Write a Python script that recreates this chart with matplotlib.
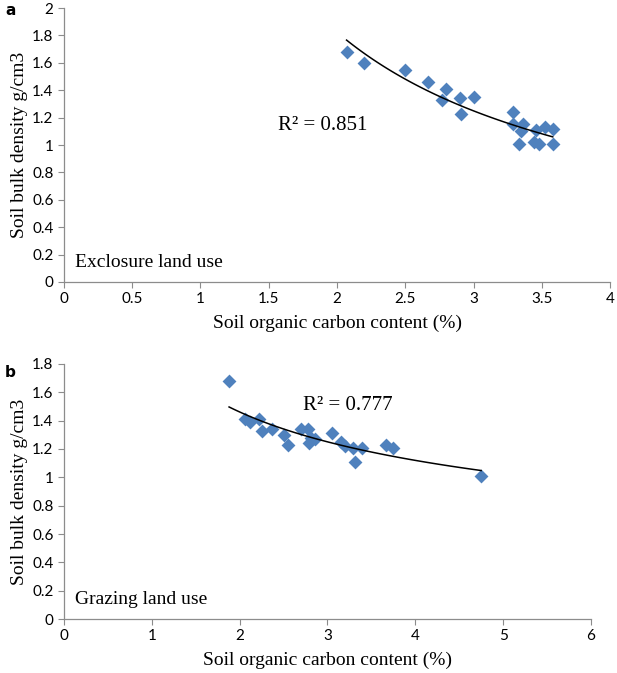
import numpy as np
import matplotlib.pyplot as plt

# exclosure land use (panel a)
soc_a = [2.07, 2.20, 2.50, 2.67, 2.80, 2.77, 2.90, 3.00, 2.91, 3.29,
         3.29, 3.36, 3.35, 3.33, 3.46, 3.52, 3.58, 3.44, 3.48, 3.58]
bd_a = [1.68, 1.60, 1.55, 1.46, 1.41, 1.33, 1.34, 1.35, 1.23, 1.24,
        1.15, 1.15, 1.10, 1.01, 1.11, 1.13, 1.12, 1.02, 1.01, 1.01]

# grazing land use (panel b)
soc_b = [1.88, 2.06, 2.12, 2.22, 2.26, 2.37, 2.50, 2.55, 2.70, 2.78, 2.81,
         2.79, 2.86, 3.05, 3.15, 3.20, 3.29, 3.31, 3.39, 3.67, 3.75, 4.75]
bd_b = [1.68, 1.41, 1.39, 1.41, 1.33, 1.34, 1.30, 1.23, 1.34, 1.34, 1.28,
        1.24, 1.27, 1.31, 1.25, 1.22, 1.21, 1.11, 1.21, 1.23, 1.21, 1.01]

r2_a = "R² = 0.851"
r2_b = "R² = 0.777"

serif = "Liberation Serif"
tickfont = "Lato"
blue = "#4F81BD"
grey = "#8c8c8c"


def power_fit(x, y):
    x = np.asarray(x)
    y = np.asarray(y)
    b, lna = np.polyfit(np.log(x), np.log(y), 1)
    xs = np.linspace(x.min(), x.max(), 100)
    return xs, np.exp(lna) * xs ** b


def style_axis(ax):
    for s in ["top", "right"]:
        ax.spines[s].set_visible(False)
    for s in ["left", "bottom"]:
        ax.spines[s].set_color(grey)
        ax.spines[s].set_linewidth(0.9)
    ax.tick_params(direction="out", length=4, color=grey, labelsize=11)
    for lab in ax.get_xticklabels() + ax.get_yticklabels():
        lab.set_fontfamily(tickfont)
    ax.set_ylabel("Soil bulk density g/cm3", family=serif, fontsize=14, labelpad=3)
    ax.set_xlabel("Soil organic carbon content (%)", family=serif, fontsize=14, labelpad=6)


def fmt(v, pos):
    return f"{v:g}"


fig = plt.figure(figsize=(6.17, 6.73), dpi=100)

ax1 = fig.add_axes([0.1037, 0.581, 0.885, 0.407])
ax1.scatter(soc_a, bd_a, marker="D", s=50, color=blue, zorder=3, linewidths=0)
xs, ys = power_fit(soc_a, bd_a)
ax1.plot(xs, ys, color="black", lw=1.1, zorder=4)
ax1.set_xlim(0, 4)
ax1.set_ylim(0, 2)
ax1.set_xticks(np.arange(0, 4.01, 0.5))
ax1.set_yticks(np.arange(0, 2.01, 0.2))
ax1.xaxis.set_major_formatter(plt.FuncFormatter(fmt))
ax1.yaxis.set_major_formatter(plt.FuncFormatter(fmt))
style_axis(ax1)
ax1.text(1.57, 1.14, r2_a, family=serif, fontsize=15, va="center")
ax1.text(0.08, 0.14, "Exclosure land use", family=serif, fontsize=14, va="center")

ax2 = fig.add_axes([0.1037, 0.0802, 0.854, 0.379])
ax2.scatter(soc_b, bd_b, marker="D", s=50, color=blue, zorder=3, linewidths=0)
xs, ys = power_fit(soc_b, bd_b)
ax2.plot(xs, ys, color="black", lw=1.1, zorder=4)
ax2.set_xlim(0, 6)
ax2.set_ylim(0, 1.8)
ax2.set_xticks(np.arange(0, 6.01, 1))
ax2.set_yticks(np.arange(0, 1.81, 0.2))
ax2.xaxis.set_major_formatter(plt.FuncFormatter(fmt))
ax2.yaxis.set_major_formatter(plt.FuncFormatter(fmt))
style_axis(ax2)
ax2.text(2.72, 1.51, r2_b, family=serif, fontsize=15, va="center")
ax2.text(0.125, 0.14, "Grazing land use", family=serif, fontsize=14, va="center")

fig.text(0.008, 0.985, "a", family="DejaVu Sans", weight="bold", fontsize=11, va="center")
fig.text(0.008, 0.447, "b", family="DejaVu Sans", weight="bold", fontsize=11, va="center")

fig.savefig("out.png", dpi=100)
